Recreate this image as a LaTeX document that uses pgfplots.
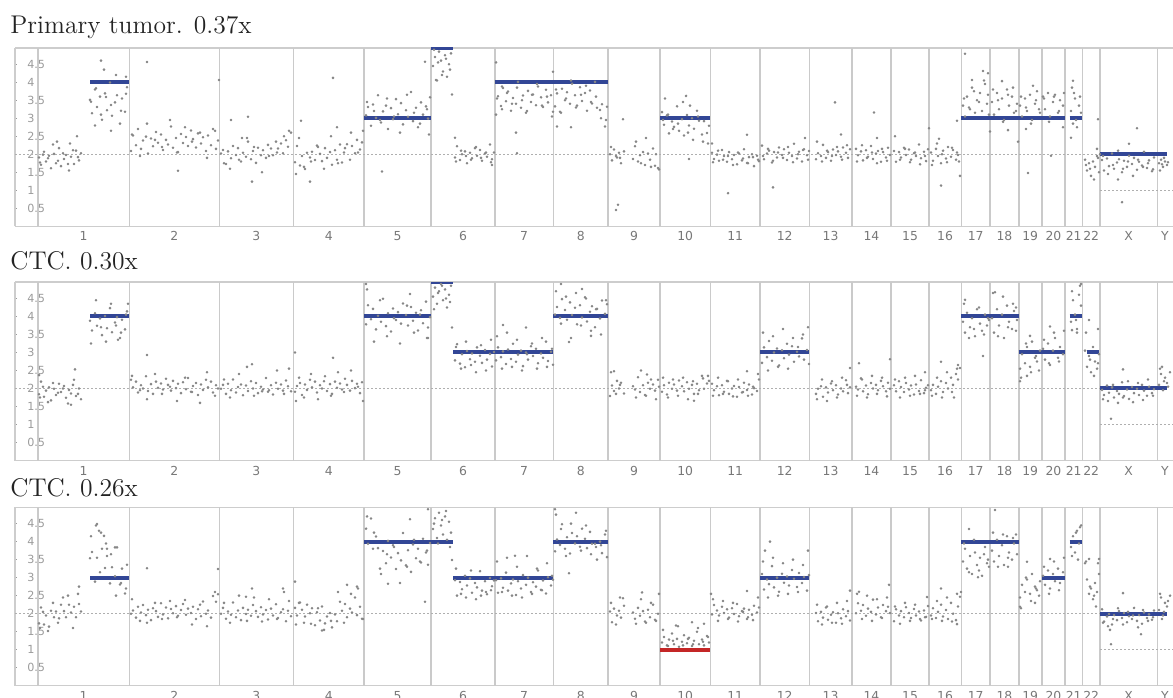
\documentclass[border=0pt]{standalone}
\usepackage{pgfplots}
\pgfplotsset{compat=1.18}
\usepackage{pgfplotstable}
\usepackage{fontspec}
\newfontfamily\tickfont{DejaVu Sans}

\definecolor{segblue}{RGB}{50,70,150}
\definecolor{segred}{RGB}{196,38,38}
\definecolor{dotgray}{RGB}{135,135,135}
\definecolor{sepgray}{RGB}{202,202,202}
\definecolor{framegray}{RGB}{205,205,205}
\definecolor{ylab}{RGB}{155,155,155}
\definecolor{xlab}{RGB}{120,120,120}
\definecolor{refdot}{RGB}{175,175,175}
\definecolor{titlecol}{RGB}{35,35,35}

% copy number bins, x in chromosome position units, columns a/b/c = the three samples
\pgfplotstableread[row sep=\\]{
x a b c\\
39 1.91 1.84 1.73\\ 41 1.71 2.19 2.17\\ 44 2.07 1.77 1.70\\ 46 1.80 1.94 1.95\\ 49 1.96 2.03 1.64\\ 51 1.61 1.67 2.08\\
54 2.01 1.99 1.90\\ 56 1.75 1.82 2.06\\ 59 2.17 2.13 1.87\\ 61 1.67 1.90 2.25\\ 64 1.87 2.07 2.07\\ 66 1.98 1.74 1.90\\
69 1.55 1.96 2.25\\ 71 1.93 1.86 2.03\\ 74 1.73 2.24 2.19\\ 76 2.10 1.79 1.90\\ 79 1.83 2.00 2.27\\ 81 2.03 1.70 2.06\\
40 1.77 1.75 1.60\\ 43 1.99 2.05 2.05\\ 48 1.89 1.62 1.52\\ 53 2.27 2.15 2.30\\ 58 1.82 1.88 1.75\\ 63 2.03 2.00 2.45\\
68 1.73 1.58 2.50\\ 73 2.11 2.10 1.60\\ 78 1.92 1.85 2.55\\
90 3.51 3.88 3.54\\ 92 3.14 3.61 3.71\\ 95 3.80 4.09 2.89\\ 97 3.31 3.74 3.55\\ 100 3.60 3.94 3.15\\ 102 2.96 3.48 3.80\\
105 3.69 4.01 3.27\\ 107 3.22 3.67 3.60\\ 110 3.99 4.23 2.84\\ 112 3.07 3.56 3.29\\ 115 3.44 3.83 3.04\\ 117 3.64 3.98 3.84\\
120 2.85 3.40 2.81\\ 122 3.55 3.91 3.25\\ 125 3.18 3.64 2.56\\ 127 3.86 4.14 3.36\\
91 3.46 3.25 4.15\\ 96 3.83 4.45 4.45\\ 101 3.10 3.70 4.25\\ 106 3.59 3.30 3.95\\ 111 3.37 4.35 3.65\\ 116 4.20 3.75 2.50\\
121 3.21 3.55 2.85\\ 126 3.68 4.05 2.70\\
131 2.09 2.24 2.00\\ 133 2.52 2.03 2.09\\ 136 2.25 2.19 1.89\\ 138 2.70 1.89 2.19\\ 141 2.15 2.09 2.03\\ 143 2.38 2.00 2.24\\
146 2.49 2.34 1.96\\ 148 2.02 1.93 2.11\\ 151 2.44 2.12 1.82\\ 153 2.22 1.85 2.15\\ 156 2.62 2.19 2.07\\ 158 2.32 2.02 1.91\\
161 2.55 2.14 2.29\\ 163 2.12 1.97 1.98\\ 166 2.40 2.27 2.17\\ 168 2.27 2.10 1.87\\ 171 2.77 1.94 2.13\\ 173 2.18 2.21 2.01\\
176 2.45 2.01 2.21\\ 178 2.06 2.13 1.94\\ 181 2.56 1.87 2.10\\ 183 2.31 2.17 2.27\\ 186 2.48 1.98 1.97\\ 188 2.23 2.29 2.14\\
191 2.66 1.91 2.02\\ 193 2.42 2.07 2.19\\ 196 2.19 2.15 1.85\\ 198 2.58 1.82 2.12\\ 201 2.30 2.11 1.93\\ 203 2.47 1.96 2.34\\
206 2.09 2.24 2.00\\ 208 2.52 2.03 2.09\\ 211 2.25 2.19 1.89\\ 213 2.70 1.89 2.49\\ 216 2.15 2.09 2.33\\ 218 2.38 2.00 2.54\\
132 2.55 2.35 2.40\\ 140 1.95 1.95 1.80\\ 147 2.85 1.70 1.75\\ 155 2.40 2.40 2.30\\ 162 2.20 1.85 1.85\\ 170 2.95 2.05 2.35\\
177 2.05 1.65 1.90\\ 185 2.75 2.30 2.38\\ 192 2.35 1.90 1.70\\ 200 2.60 1.60 2.25\\ 207 1.90 2.45 1.65\\ 215 2.65 1.80 2.60\\
221 2.02 1.99 2.00\\ 223 2.12 2.10 2.16\\ 226 1.73 1.85 1.86\\ 228 2.08 2.13 2.06\\ 231 1.89 1.95 1.97\\ 233 2.23 2.25 2.31\\
236 1.98 1.89 1.90\\ 238 2.17 2.04 2.09\\ 241 1.80 2.11 1.82\\ 243 2.04 1.81 2.16\\ 246 1.93 2.08 1.99\\ 248 2.35 1.93 2.11\\
251 1.86 2.20 1.94\\ 253 2.09 2.00 2.24\\ 256 1.76 2.15 2.07\\ 258 2.18 1.87 1.91\\ 261 1.97 2.05 2.18\\ 263 2.11 1.97 1.98\\
266 1.90 2.29 2.10\\ 268 2.26 1.91 1.84\\ 271 2.16 2.09 2.14\\ 273 1.97 1.83 1.95\\ 276 2.35 2.16 2.26\\ 278 2.16 1.99 1.88\\
281 2.30 2.11 2.04\\ 283 2.03 1.94 2.12\\ 286 2.39 2.22 1.79\\ 288 2.21 2.06 2.08\\ 291 2.60 1.92 1.93\\
224 1.75 2.25 2.30\\ 230 1.60 1.75 1.75\\ 239 1.85 2.40 2.50\\ 247 2.45 2.60 1.80\\ 254 2.20 1.80 2.45\\ 262 1.50 1.92 1.78\\
269 1.95 1.95 2.40\\ 277 2.05 2.50 1.85\\ 284 2.50 1.85 2.60\\ 289 2.65 2.55 2.35\\
295 1.78 1.91 2.16\\ 297 2.23 2.07 1.95\\ 300 1.69 2.15 2.31\\ 302 1.95 1.82 2.11\\ 305 1.59 2.11 1.92\\ 307 2.04 1.96 2.25\\
310 1.91 2.24 2.01\\ 312 2.07 2.03 2.15\\ 315 1.84 2.19 1.68\\ 317 2.24 1.89 2.04\\ 320 2.01 2.09 1.81\\ 322 1.81 2.00 2.20\\
325 2.17 2.34 1.73\\ 327 1.90 1.93 1.92\\ 330 2.06 2.12 2.02\\ 332 1.71 1.85 1.62\\ 335 2.11 2.19 1.98\\ 337 1.85 2.02 1.79\\
340 2.27 2.14 2.33\\ 342 1.77 1.97 2.08\\ 345 2.17 2.27 2.27\\ 347 2.28 2.10 1.90\\ 350 1.85 1.94 2.14\\ 352 2.23 2.21 2.03\\
355 2.03 2.01 2.45\\ 357 2.40 2.13 1.96\\ 360 2.13 1.87 2.19\\ 362 2.33 2.17 1.86\\
296 1.45 1.65 1.70\\ 299 2.45 2.30 2.30\\ 304 1.65 1.75 1.75\\ 311 1.80 2.40 1.72\\ 318 2.20 1.70 2.15\\ 324 1.60 2.20 1.55\\
331 2.50 1.80 1.80\\ 338 1.75 2.45 2.60\\ 344 2.05 1.90 1.75\\ 351 2.60 2.50 2.55\\ 358 2.05 2.05 2.70\\ 363 2.65 1.65 1.85\\
366 3.08 3.78 4.36\\ 368 3.31 4.31 3.94\\ 371 2.79 3.92 4.64\\ 373 3.38 4.21 3.80\\ 376 3.01 3.64 4.14\\ 378 3.64 4.02 3.82\\
381 2.88 3.85 3.10\\ 383 3.19 4.49 3.74\\ 386 3.35 3.73 3.40\\ 388 2.70 4.09 4.02\\ 391 3.28 3.58 3.56\\ 393 2.97 4.22 3.90\\
396 3.53 3.90 3.24\\ 398 3.11 4.12 3.68\\ 401 3.42 3.80 3.48\\ 403 2.83 4.36 4.24\\ 406 3.22 4.04 3.34\\ 408 3.04 3.75 3.76\\
411 3.73 4.26 3.16\\ 413 2.92 3.88 3.92\\ 416 3.29 4.10 3.54\\ 418 2.75 3.61 3.80\\ 421 3.44 4.17 3.42\\ 423 3.10 3.81 4.08\\
426 3.33 4.41 3.70\\ 428 2.99 3.69 3.36\\ 430 3.58 3.98 3.96\\
367 3.45 4.75 4.70\\ 374 3.20 3.30 4.25\\ 380 2.95 4.45 3.25\\ 387 3.55 3.45 3.65\\ 394 3.05 3.95 3.85\\ 400 2.60 3.25 2.85\\
407 3.65 4.30 3.30\\ 414 3.15 3.55 4.05\\ 420 2.85 4.05 3.45\\ 427 3.25 3.40 3.75\\
433 4.45 4.55 4.35\\ 435 4.70 4.80 4.65\\ 437 4.05 4.35 4.10\\ 439 4.85 4.70 4.80\\ 441 4.60 4.90 4.45\\ 443 4.30 4.45 4.20\\
445 4.75 4.75 4.70\\ 447 4.15 4.25 4.05\\ 449 4.50 4.60 4.55\\ 451 4.80 4.85 4.25\\ 434 4.90 4.20 4.50\\ 438 4.55 4.65 3.95\\
442 4.20 4.85 4.60\\ 446 4.65 4.50 4.85\\ 450 4.35 4.40 3.85\\
455 1.91 2.78 2.93\\ 457 2.22 3.23 2.50\\ 460 1.84 2.69 2.88\\ 462 2.00 2.95 2.68\\ 465 2.08 2.59 3.05\\ 467 1.75 3.04 2.78\\
470 2.04 2.81 2.98\\ 472 1.89 2.97 2.58\\ 475 2.17 2.74 2.85\\ 477 1.96 3.14 2.73\\ 480 2.12 2.91 3.18\\ 482 1.82 2.71 2.64\\
485 2.02 3.07 2.90\\ 487 1.93 2.80 2.54\\ 490 2.27 2.96 2.99\\ 492 1.86 2.61 2.76\\ 494 2.05 3.01 2.92\\
456 1.80 3.15 3.25\\ 461 2.10 2.55 2.55\\ 466 1.95 3.30 2.45\\ 471 1.85 2.65 3.20\\ 476 2.20 2.45 2.40\\ 481 1.90 3.20 2.50\\
486 2.05 2.50 2.60\\ 491 1.78 3.35 2.65\\
496 3.10 2.78 2.93\\ 498 3.61 3.14 2.58\\ 501 3.34 2.87 2.98\\ 503 3.84 3.03 2.72\\ 506 3.47 2.68 3.14\\ 508 3.74 3.08 2.64\\
511 3.21 2.82 2.84\\ 513 3.56 3.24 2.95\\ 516 3.40 2.74 2.52\\ 518 4.01 2.94 2.90\\ 521 3.29 3.05 2.70\\ 523 3.63 2.62 3.07\\
526 3.15 3.00 2.80\\ 528 3.76 2.80 3.00\\ 531 3.45 3.17 2.60\\ 533 3.66 2.90 2.87\\ 536 3.36 3.10 2.75\\ 538 3.88 2.70 3.20\\
541 3.58 2.97 2.66\\ 543 3.31 2.85 2.92\\ 546 3.79 3.30 2.56\\ 548 3.44 2.76 3.01\\ 551 3.64 3.02 2.78\\ 553 3.18 2.66 2.94\\
497 3.55 3.45 3.45\\ 502 3.25 2.55 2.60\\ 507 3.70 3.55 3.55\\ 512 3.40 2.60 2.50\\ 517 3.85 3.35 3.30\\ 522 3.50 2.50 2.45\\
527 3.20 2.95 3.60\\ 532 3.65 3.25 2.55\\ 537 3.95 2.55 3.25\\ 542 3.35 3.40 2.65\\ 547 3.60 2.60 3.40\\ 552 3.05 3.10 3.05\\
555 3.33 4.05 3.73\\ 557 3.69 4.26 4.06\\ 560 3.18 3.96 3.91\\ 562 3.82 4.48 4.48\\ 565 3.50 4.18 3.80\\ 567 3.72 3.91 4.12\\
570 3.40 4.39 3.67\\ 572 3.96 4.04 4.24\\ 575 3.64 4.24 3.95\\ 577 3.35 3.78 4.15\\ 580 3.86 4.31 3.86\\ 582 3.48 3.97 4.36\\
585 3.70 4.53 4.08\\ 587 3.21 3.86 3.82\\ 590 3.77 4.13 4.27\\ 592 3.41 4.28 3.94\\ 595 4.01 3.70 3.94\\ 597 3.29 4.21 3.50\\
600 3.23 3.94 4.00\\ 602 3.39 4.44 3.68\\ 605 2.77 4.07 4.20\\ 607 3.32 4.34 3.57\\
556 3.80 4.70 4.75\\ 561 3.15 3.80 4.35\\ 566 3.55 4.55 3.60\\ 571 4.05 3.40 4.50\\ 576 3.30 4.65 4.80\\ 581 3.65 3.75 3.75\\
586 3.90 4.50 4.45\\ 591 3.45 3.60 3.65\\ 596 3.60 4.20 3.85\\ 601 3.00 3.50 3.90\\ 606 2.95 4.45 4.30\\
610 2.00 1.79 2.06\\ 612 1.83 2.08 1.76\\ 614 2.13 1.93 2.14\\ 617 1.91 2.21 1.95\\ 619 2.04 2.00 2.08\\ 621 1.75 2.16 1.89\\
624 2.08 1.86 2.22\\ 633 1.87 2.06 2.03\\ 635 2.22 1.97 1.86\\ 638 1.80 2.31 2.16\\ 640 1.97 1.90 1.94\\ 643 2.06 2.09 2.07\\
645 1.70 1.82 1.78\\ 648 2.02 2.16 2.11\\ 650 1.85 1.99 1.90\\ 653 2.16 2.11 2.25\\ 655 1.68 1.94 1.83\\ 658 1.62 2.24 2.00\\
611 2.20 2.45 2.30\\ 616 1.95 1.85 1.70\\ 620 1.90 2.10 2.45\\ 636 2.35 1.75 1.72\\ 641 1.75 2.50 2.40\\ 646 2.45 1.80 1.75\\
651 1.65 2.25 2.30\\ 656 2.00 1.70 1.80\\ 659 1.58 2.05 2.55\\
662 3.17 1.91 1.20\\ 664 2.82 2.09 1.35\\ 667 3.08 1.83 1.12\\ 669 2.58 2.16 1.28\\ 672 2.91 1.99 1.45\\ 674 2.76 2.11 1.15\\
677 3.33 1.94 1.30\\ 679 2.65 2.22 1.08\\ 682 2.97 2.06 1.22\\ 684 2.52 1.92 1.40\\ 687 3.09 2.17 1.18\\ 689 2.80 1.99 1.33\\
692 3.00 2.10 1.10\\ 694 2.71 1.85 1.25\\ 697 3.21 2.13 1.50\\ 699 2.93 1.95 1.15\\ 702 2.55 2.35 1.28\\ 704 2.92 1.99 1.12\\
707 2.59 2.14 1.38\\ 709 2.79 2.21 1.20\\
663 2.95 2.30 1.55\\ 668 3.10 1.75 1.10\\ 673 2.70 2.25 1.25\\ 678 2.85 1.80 1.65\\ 683 3.45 2.30 1.12\\ 688 2.60 1.70 1.30\\
693 2.40 2.20 1.15\\ 698 3.05 1.85 1.60\\ 703 2.35 2.28 1.22\\ 708 2.30 2.35 1.35\\
712 2.04 2.13 1.98\\ 714 1.87 1.95 2.24\\ 717 1.99 2.06 2.09\\ 719 1.82 1.81 1.95\\ 722 2.12 2.09 2.19\\ 724 1.95 1.91 2.02\\
727 1.79 2.21 2.12\\ 729 2.06 1.85 1.89\\ 732 1.86 2.00 2.15\\ 734 1.98 2.07 1.99\\ 737 1.72 1.77 2.27\\ 739 2.02 2.04 1.93\\
742 1.83 1.89 2.07\\ 744 2.14 2.16 2.14\\ 747 1.76 1.96 1.85\\ 749 1.92 2.11 2.11\\ 752 2.00 1.83 1.97\\ 754 1.67 2.01 2.22\\
757 1.96 1.93 2.03\\ 759 1.81 2.25 2.17\\
713 1.78 1.80 2.40\\ 718 2.10 2.30 1.80\\ 723 1.85 1.85 2.35\\ 728 1.95 2.20 1.85\\ 733 1.70 1.78 2.30\\ 738 2.05 2.25 1.78\\
743 1.88 1.90 2.05\\ 748 1.75 1.80 1.90\\ 753 1.92 2.05 1.82\\ 758 1.85 2.40 2.45\\
762 2.24 2.71 3.10\\ 764 1.86 3.14 2.67\\ 767 2.02 2.87 2.95\\ 769 2.10 3.32 2.82\\ 772 1.77 2.77 3.32\\ 774 2.06 3.00 2.73\\
777 1.91 3.11 3.00\\ 779 2.19 2.64 2.61\\ 782 1.98 3.06 3.11\\ 784 2.14 2.84 2.86\\ 787 1.84 3.24 3.03\\ 789 2.04 2.94 2.78\\
792 1.95 3.17 3.21\\ 794 2.29 2.74 2.97\\ 797 1.88 3.02 2.74\\ 799 2.07 2.89 3.13\\ 802 1.80 3.39 2.85\\ 804 2.14 2.80 3.02\\
807 1.97 3.07 2.64\\ 809 2.09 2.68 3.07\\
763 1.95 3.55 3.45\\ 768 2.15 2.50 2.45\\ 773 1.82 3.45 3.55\\ 778 2.05 2.60 2.50\\ 783 1.90 3.65 3.40\\ 788 2.20 2.55 2.55\\
793 1.78 3.40 3.50\\ 798 2.00 3.15 2.60\\ 803 2.12 3.50 3.35\\ 808 1.85 3.70 3.75\\
816 1.86 1.85 2.02\\ 818 2.03 1.99 1.79\\ 821 1.95 2.06 2.05\\ 823 2.26 1.77 1.89\\ 826 1.90 2.03 2.17\\ 828 2.06 1.89 1.83\\
831 1.82 2.14 1.97\\ 833 2.13 1.95 2.04\\ 836 1.98 2.09 1.75\\ 838 2.08 1.83 2.01\\ 841 1.93 2.00 1.87\\ 843 2.19 1.92 2.12\\
846 2.04 2.23 1.93\\ 848 1.90 1.87 2.07\\ 850 2.14 2.03 1.81\\
817 2.35 1.70 2.25\\ 822 1.80 2.25 1.70\\ 827 2.10 1.65 2.20\\ 832 1.95 2.20 1.75\\ 837 2.20 1.75 2.30\\ 842 1.85 2.30 1.72\\
847 2.25 2.10 2.35\\
856 2.15 2.05 2.01\\ 858 1.97 1.97 2.29\\ 861 2.08 2.28 2.08\\ 863 1.83 1.92 2.24\\ 866 2.11 2.08 1.94\\ 868 1.93 1.84 2.14\\
871 2.23 2.15 2.05\\ 873 1.87 2.00 2.39\\ 876 2.02 2.10 1.98\\ 878 2.09 1.95 2.17\\ 881 1.79 2.21 1.90\\ 883 2.06 2.06 2.24\\
886 1.91 1.92 2.07\\ 888 2.18 2.16 2.19\\ 890 1.98 1.99 2.02\\
857 1.80 1.80 2.55\\ 862 2.25 2.25 1.85\\ 867 1.90 1.75 2.50\\ 872 2.05 2.35 1.80\\ 877 1.75 1.85 2.40\\ 882 2.15 2.30 1.88\\
887 1.82 1.78 2.45\\
894 2.09 2.09 1.79\\ 896 1.79 1.92 2.12\\ 899 2.06 2.20 1.95\\ 901 1.91 2.04 2.07\\ 904 2.18 1.90 1.90\\ 906 1.98 2.15 2.18\\
909 2.13 1.97 2.02\\ 911 1.85 2.08 1.88\\ 914 2.03 1.83 2.13\\ 916 1.95 2.11 1.95\\ 919 2.27 1.93 2.06\\ 921 1.89 2.23 1.81\\
924 2.07 1.87 2.09\\ 926 1.81 2.02 1.91\\ 928 2.14 2.09 2.21\\
895 2.50 2.25 2.20\\ 900 1.85 1.75 1.72\\ 905 2.15 2.30 2.30\\ 910 1.78 1.80 1.80\\ 915 2.05 2.35 2.25\\ 920 1.72 1.85 1.85\\
925 1.95 1.95 1.90\\
931 2.05 1.95 1.95\\ 933 1.82 2.10 2.15\\ 936 2.15 1.85 1.88\\ 938 1.95 2.05 2.05\\ 941 1.75 2.20 2.25\\ 943 2.10 1.90 1.92\\
946 1.88 2.15 2.10\\ 948 2.20 2.00 1.85\\ 951 1.93 2.30 2.30\\ 953 2.12 2.10 2.00\\ 956 1.85 2.40 1.82\\ 958 1.98 2.25 2.20\\
932 1.70 1.80 1.85\\ 937 2.30 2.30 2.35\\ 942 2.00 1.75 1.80\\ 947 1.78 2.45 2.45\\ 952 2.18 1.90 1.78\\ 957 2.05 2.55 2.55\\
963 3.35 3.85 3.45\\ 965 3.05 3.55 3.80\\ 967 3.60 4.10 3.25\\ 970 3.25 3.70 3.60\\ 972 3.85 3.95 3.10\\ 975 3.15 3.45 3.70\\
977 3.50 4.20 3.35\\ 980 3.70 3.80 3.55\\ 982 3.20 3.60 3.05\\ 985 3.95 4.05 3.85\\ 987 3.40 3.75 3.40\\ 989 3.10 3.90 3.30\\
964 3.55 4.35 3.95\\ 969 3.30 3.40 3.15\\ 974 3.75 3.65 4.05\\ 979 3.45 4.25 3.20\\ 984 4.05 3.50 3.65\\ 988 3.65 3.95 3.50\\
992 3.45 3.95 3.75\\ 994 3.10 3.55 3.45\\ 997 3.70 4.20 4.05\\ 999 3.25 3.75 3.60\\ 1002 3.55 4.05 3.90\\ 1004 2.95 3.40 3.35\\
1007 3.80 4.30 4.15\\ 1009 3.35 3.85 3.70\\ 1012 3.60 3.65 3.50\\ 1014 3.15 4.15 3.95\\ 1017 3.40 3.90 3.65\\
993 3.80 4.65 4.25\\ 998 3.50 3.45 3.30\\ 1003 2.90 4.55 4.20\\ 1008 3.65 3.70 3.55\\ 1013 3.85 4.35 4.10\\ 1016 3.20 4.25 4.20\\
1020 3.35 2.55 2.45\\ 1022 3.05 2.95 2.80\\ 1025 3.55 2.70 2.60\\ 1027 3.20 3.15 2.95\\ 1030 3.65 2.60 2.55\\ 1032 2.95 3.30 3.10\\
1035 3.40 2.85 2.75\\ 1037 3.75 2.75 2.65\\ 1040 3.15 3.05 2.90\\ 1021 3.60 2.30 2.15\\ 1026 3.30 3.25 3.00\\ 1031 2.85 2.45 2.35\\
1036 3.50 2.90 2.70\\ 1039 3.25 2.50 2.50\\
1043 3.60 3.10 3.05\\ 1045 3.25 2.80 2.80\\ 1048 3.70 3.25 3.20\\ 1050 3.05 2.65 2.70\\ 1053 3.45 3.05 3.10\\ 1055 3.65 3.40 2.90\\
1058 3.15 2.85 3.25\\ 1060 3.50 3.15 2.85\\ 1063 3.35 2.95 3.15\\ 1044 3.55 3.35 3.30\\ 1049 2.90 2.70 2.55\\ 1054 3.60 3.55 3.45\\
1059 3.20 2.75 2.65\\ 1064 3.70 3.60 3.55\\
1071 3.20 3.85 3.85\\ 1073 2.85 4.45 4.15\\ 1075 3.55 4.05 3.70\\ 1077 2.75 3.65 4.30\\ 1079 3.35 4.60 3.95\\ 1081 3.15 4.30 4.45\\
1072 3.85 4.70 3.60\\ 1076 2.95 3.90 4.25\\ 1080 3.60 4.85 4.40\\
1085 1.85 3.05 3.40\\ 1087 1.55 2.60 2.95\\ 1089 1.75 2.90 2.55\\ 1091 1.40 2.45 2.70\\ 1093 1.80 3.15 2.40\\ 1095 1.65 2.75 2.85\\
1097 1.95 2.55 2.60\\ 1099 1.50 2.95 3.10\\ 1086 1.70 3.55 3.45\\ 1090 1.60 2.80 2.75\\ 1094 1.30 2.35 2.50\\ 1098 1.90 2.70 3.40\\
1102 1.84 1.96 2.12\\ 1104 1.55 1.82 1.78\\ 1107 1.88 2.08 1.92\\ 1109 1.67 1.88 1.99\\ 1112 2.02 2.03 1.70\\ 1114 1.60 1.75 1.96\\
1117 1.77 1.93 1.82\\ 1119 1.86 1.85 2.07\\ 1122 1.50 2.17 1.88\\ 1124 1.82 1.79 2.02\\ 1127 1.65 1.97 1.76\\ 1129 1.96 1.71 1.93\\
1132 1.73 2.04 1.85\\ 1134 1.90 1.87 2.16\\ 1137 1.57 1.99 1.80\\ 1139 1.79 1.82 1.96\\ 1142 1.69 2.10 1.72\\ 1144 2.07 1.94 2.03\\
1147 1.62 1.80 1.88\\ 1149 1.83 2.05 1.98\\ 1152 1.53 1.87 1.83\\ 1154 1.91 1.98 2.09\\
1103 1.95 1.70 1.75\\ 1108 1.45 1.65 1.65\\ 1113 1.70 2.10 1.85\\ 1118 2.10 1.60 2.15\\ 1123 1.60 1.75 1.70\\ 1128 1.80 2.20 2.05\\
1133 1.40 1.62 1.95\\ 1138 1.85 2.15 1.62\\ 1143 1.65 1.68 2.10\\ 1148 1.75 2.25 1.80\\ 1153 1.58 1.80 1.90\\
1159 1.75 2.10 2.10\\ 1161 1.85 2.40 2.45\\ 1163 1.65 1.95 1.95\\ 1165 1.80 2.30 2.30\\ 1167 1.70 2.15 2.20\\ 1160 1.55 2.55 2.55\\
1164 1.90 2.20 2.05\\ 1168 1.78 2.05 2.35\\ 1170 nan 2.45 2.50\\ 1162 1.72 2.60 1.85\\
}\grid

% scattered bins away from the bulk, one table per sample
\pgfplotstableread[row sep=\\]{
x y\\ 77 2.50\\ 70 2.30\\ 57 2.35\\ 101 4.60\\ 104 4.35\\ 95 2.80\\ 111 2.65\\ 126 4.15\\ 147 4.56\\ 178 1.54\\
252 1.24\\ 248 3.04\\ 231 2.95\\ 242 2.45\\ 219 4.06\\ 310 1.24\\ 301 2.93\\ 333 4.12\\ 337 2.75\\ 382 1.52\\
425 4.57\\ 429 2.55\\ 452 3.66\\ 436 4.06\\ 455 2.46\\ 492 1.70\\ 496 4.55\\ 502 3.88\\ 517 2.03\\ 516 2.60\\
553 4.29\\ 557 2.77\\ 571 2.75\\ 616 0.45\\ 618 0.60\\ 623 2.97\\ 665 3.55\\ 686 3.62\\ 690 3.35\\ 689 1.87\\
728 0.92\\ 747 2.54\\ 712 2.30\\ 773 1.08\\ 805 2.45\\ 835 3.44\\ 841 2.55\\ 874 3.16\\ 877 2.45\\ 929 2.72\\
941 1.13\\ 939 2.43\\ 957 2.93\\ 960 1.40\\ 959 1.80\\ 965 4.79\\ 972 4.06\\ 983 4.31\\ 988 4.25\\ 990 2.63\\
1002 4.03\\ 1008 2.67\\ 1018 2.35\\ 1028 1.48\\ 1026 2.70\\ 1033 3.90\\ 1051 1.96\\ 1063 2.75\\ 1073 4.04\\ 1074 3.70\\
1071 2.46\\ 1098 2.97\\ 1097 2.15\\ 1100 2.00\\ 1137 2.72\\ 1129 2.29\\ 1122 0.67\\ 1118 1.30\\
}\exA
\pgfplotstableread[row sep=\\]{
x y\\ 39 2.37\\ 75 2.53\\ 71 1.55\\ 128 4.35\\ 118 3.35\\ 147 2.93\\ 252 2.67\\ 295 3.00\\ 333 2.85\\ 366 4.90\\
410 4.62\\ 428 3.40\\ 452 3.69\\ 503 3.76\\ 526 3.69\\ 561 4.90\\ 569 3.29\\ 582 4.76\\ 591 3.46\\ 614 2.48\\
647 2.39\\ 694 1.66\\ 747 2.48\\ 850 2.57\\ 859 2.70\\ 890 2.81\\ 925 2.45\\ 941 2.74\\ 958 2.65\\ 960 2.57\\
954 1.75\\ 965 4.46\\ 983 2.90\\ 995 4.67\\ 1016 3.60\\ 1020 2.20\\ 1027 2.35\\ 1030 3.46\\ 1050 3.72\\ 1072 3.62\\
1081 4.90\\ 1077 3.55\\ 1089 3.90\\ 1098 3.65\\ 1111 1.16\\ 1123 2.53\\
}\exB
\pgfplotstableread[row sep=\\]{
x y\\ 79 2.75\\ 97 4.49\\ 99 4.30\\ 104 4.16\\ 115 3.84\\ 107 3.80\\ 147 3.26\\ 218 3.24\\ 252 2.70\\ 246 2.47\\
283 2.70\\ 295 2.89\\ 347 2.80\\ 357 2.75\\ 322 1.53\\ 388 2.83\\ 428 4.90\\ 410 4.62\\ 425 2.33\\ 452 3.49\\
515 3.61\\ 569 3.12\\ 555 4.90\\ 623 2.43\\ 642 2.59\\ 676 1.67\\ 692 1.76\\ 704 1.72\\ 747 2.63\\ 711 2.55\\
770 4.00\\ 765 3.75\\ 850 2.64\\ 859 2.61\\ 889 2.80\\ 927 2.46\\ 941 2.70\\ 957 1.71\\ 960 2.47\\ 961 2.60\\
969 4.35\\ 978 3.01\\ 995 4.88\\ 1008 3.30\\ 1020 2.19\\ 1027 3.44\\ 1035 2.30\\ 1050 3.52\\ 1078 3.50\\ 1089 3.52\\
1099 3.52\\ 1096 2.20\\ 1111 1.15\\ 1110 1.55\\ 1123 2.57\\ 1141 1.43\\
}\exC

\pgfplotsset{
  cnv/.style={
    anchor=south west, scale only axis,
    width=579pt, height=89.15pt,
    xmin=15, xmax=1173, ymin=0, ymax=4.95,
    axis x line*=box, axis y line*=left,
    axis line style={draw=framegray, line width=0.75pt, -},
    every outer x axis line/.append style={-},
    every outer y axis line/.append style={-},
    xtick={83.5,174.3,256.3,328.7,397.5,463,524,580.7,634,685.2,735.2,784.7,830.5,871.4,910,945,975.7,1004.4,1030.2,1053.4,1073.7,1091.2,1128.7,1165},
    xticklabels={1,2,3,4,5,6,7,8,9,10,11,12,13,14,15,16,17,18,19,20,21,22,X,Y},
    x tick style={draw=none},
    xticklabel style={font=\tickfont\fontsize{6.2}{7}\selectfont, text=xlab, yshift=0.8pt},
    ytick={0.5,1,1.5,2,2.5,3,3.5,4,4.5},
    yticklabels={0.5,1,1.5,2,2.5,3,3.5,4,4.5},
    y tick style={draw=ylab, line width=0.6pt},
    tick align=inside, major tick length=1.2pt,
    yticklabel style={anchor=west, xshift=2.6pt, font=\tickfont\fontsize{5.6}{6.5}\selectfont, text=ylab},
    extra x ticks={37.7,129.3,219.3,293.3,364,431,494.7,553.3,608,660,710.3,760,809.3,851.7,891,928.7,961.3,990,1018.7,1041.7,1065,1082.3,1100,1157.3},
    extra x tick labels={},
    extra x tick style={grid=major},
    major grid style={draw=sepgray, line width=0.8pt},
  },
  pts/.style={only marks, mark=*, mark size=0.42pt, color=dotgray},
  seg/.style={draw=segblue, line width=2pt, line cap=butt, forget plot},
  refline/.style={draw=refdot, line width=0.55pt, dash pattern=on 0.8pt off 1.2pt, forget plot},
}
\tikzset{ttl/.style={anchor=base west, inner sep=0pt, font=\fontsize{12.8}{15}\selectfont, text=titlecol}}

\begin{document}
\begin{tikzpicture}
% Primary tumor
\begin{axis}[cnv, at={(7.5pt,235.35pt)}]
  \addplot[refline] coordinates {(15,2) (1100,2)};
  \addplot[refline] coordinates {(1100,1) (1173,1)};
  \addplot[pts] table[x=x, y=a] {\grid};
  \addplot[pts] table[x=x, y=y] {\exA};
  \addplot[seg] coordinates {(90.3,4) (129.3,4)};
  \addplot[seg] coordinates {(364,3) (431,3)};
  \addplot[seg] coordinates {(431,4.95) (453,4.95)};
  \addplot[seg] coordinates {(494.7,4) (608,4)};
  \addplot[seg] coordinates {(660,3) (710,3)};
  \addplot[seg] coordinates {(961.3,3) (1065,3)};
  \addplot[seg] coordinates {(1069.5,3) (1082,3)};
  \addplot[seg] coordinates {(1100,2) (1167,2)};
\end{axis}
% CTC 0.30x
\begin{axis}[cnv, at={(7.5pt,118.25pt)}]
  \addplot[refline] coordinates {(15,2) (1100,2)};
  \addplot[refline] coordinates {(1100,1) (1173,1)};
  \addplot[pts] table[x=x, y=b] {\grid};
  \addplot[pts] table[x=x, y=y] {\exB};
  \addplot[seg] coordinates {(90.3,4) (129.3,4)};
  \addplot[seg] coordinates {(364,4) (431,4)};
  \addplot[seg] coordinates {(431,4.95) (453,4.95)};
  \addplot[seg] coordinates {(453,3) (553.3,3)};
  \addplot[seg] coordinates {(553.3,4) (608,4)};
  \addplot[seg] coordinates {(760,3) (809.3,3)};
  \addplot[seg] coordinates {(961.3,4) (1018.7,4)};
  \addplot[seg] coordinates {(1018.7,3) (1065,3)};
  \addplot[seg] coordinates {(1069.5,4) (1082,4)};
  \addplot[seg] coordinates {(1087,3) (1099.3,3)};
  \addplot[seg] coordinates {(1100,2) (1167,2)};
\end{axis}
% CTC 0.26x
\begin{axis}[cnv, at={(7.5pt,5.65pt)}]
  \addplot[refline] coordinates {(15,2) (1100,2)};
  \addplot[refline] coordinates {(1100,1) (1173,1)};
  \addplot[pts] table[x=x, y=c] {\grid};
  \addplot[pts] table[x=x, y=y] {\exC};
  \addplot[seg] coordinates {(90.3,3) (129.3,3)};
  \addplot[seg] coordinates {(364,4) (453,4)};
  \addplot[seg] coordinates {(453,3) (553.3,3)};
  \addplot[seg] coordinates {(553.3,4) (608,4)};
  \addplot[seg, draw=segred] coordinates {(660,1) (710,1)};
  \addplot[seg] coordinates {(760,3) (809.3,3)};
  \addplot[seg] coordinates {(961.3,4) (1018.7,4)};
  \addplot[seg] coordinates {(1041.7,3) (1065,3)};
  \addplot[seg] coordinates {(1069.5,4) (1082,4)};
  \addplot[seg] coordinates {(1100,2) (1167,2)};
\end{axis}
\node[ttl] at (5pt,331.5pt) {Primary tumor. 0.37x};
\node[ttl] at (5pt,213.9pt) {CTC. 0.30x};
\node[ttl] at (5pt,100.0pt) {CTC. 0.26x};
\pgfresetboundingbox
\path[use as bounding box] (0,0) rectangle (586.5pt,348.5pt);
\end{tikzpicture}
\end{document}
